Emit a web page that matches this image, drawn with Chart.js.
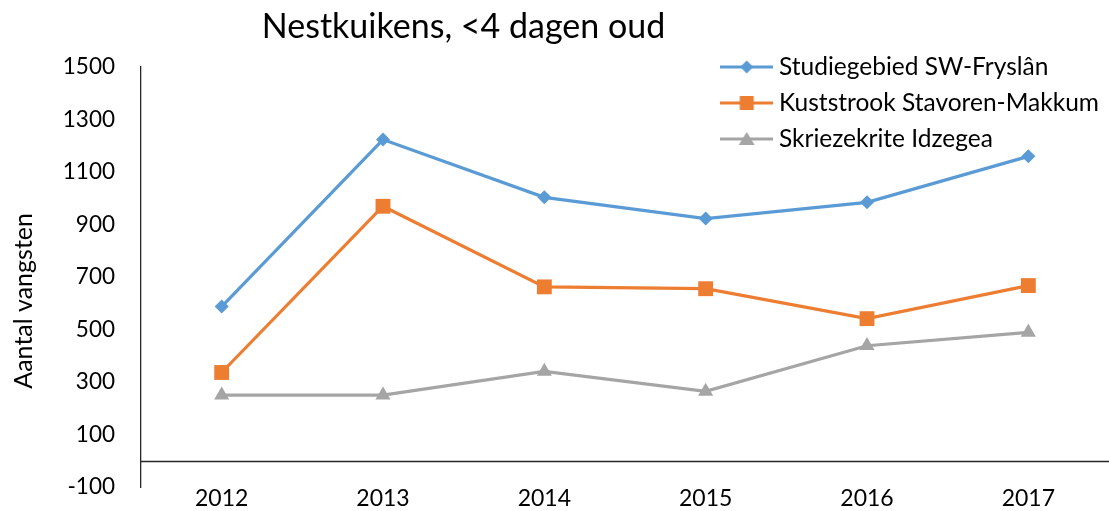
<!DOCTYPE html>
<html><head><meta charset="utf-8">
<script src="https://cdn.jsdelivr.net/npm/chart.js@4.4.1/dist/chart.umd.min.js"></script>
<style>html,body{margin:0;padding:0;background:#fff;} #wrap{width:1109px;height:511px;}</style>
</head><body><div id="wrap"><canvas id="c" width="1109" height="511"></canvas></div>
<script>
const chartTitle = 'Nestkuikens, <4 dagen oud';
const yAxisTitle = 'Aantal vangsten';
const years = ['2012', '2013', '2014', '2015', '2016', '2017'];
const seriesNames = ['Studiegebied SW-Fryslân', 'Kuststrook Stavoren-Makkum', 'Skriezekrite Idzegea'];
const studiegebied = [587, 1223, 1003, 922, 984, 1159];
const kuststrook = [336, 969, 662, 655, 541, 667];
const skriezekrite = [250, 250, 340, 264, 438, 489];
const yMin = -100, yMax = 1500, yStep = 200;

const colors = ['#5B9BD5', '#ED7D31', '#A5A5A5'];
const shapes = ['rectRot', 'rect', 'triangle'];
const FONT = 'Lato, "Open Sans", sans-serif';
const LEGEND_FONT = 24.5;

function legendIcon(color, shape) {
  const c = document.createElement('canvas');
  c.width = 53; c.height = 20;
  const g = c.getContext('2d');
  g.strokeStyle = color; g.lineWidth = 3;
  g.beginPath(); g.moveTo(0, 10); g.lineTo(53, 10); g.stroke();
  g.fillStyle = color; g.beginPath();
  if (shape === 'rectRot') { g.moveTo(26.5, 3.5); g.lineTo(33, 10); g.lineTo(26.5, 16.5); g.lineTo(20, 10); }
  else if (shape === 'rect') { g.rect(19.5, 3, 14, 14); }
  else { g.moveTo(26.5, 3); g.lineTo(34.5, 16); g.lineTo(18.5, 16); }
  g.closePath(); g.fill();
  return c;
}

function build() {
  const icons = colors.map((c, i) => legendIcon(c, shapes[i]));
  const seriesData = [studiegebied, kuststrook, skriezekrite];
  const radii = [7, 10.5, 8.7];
  const datasets = seriesNames.map((name, i) => ({
    label: name,
    data: seriesData[i],
    borderColor: colors[i],
    backgroundColor: colors[i],
    borderWidth: 3.2,
    pointStyle: shapes[i],
    pointRadius: radii[i],
    pointHoverRadius: radii[i],
    pointBorderWidth: 0,
    tension: 0,
    clip: false
  }));

  const placePlugin = {
    id: 'place',
    afterLayout(chart) {
      const lg = chart.legend;
      const pad = lg.options.labels.padding;
      const w = lg.width, h = lg.height;
      lg.left = 726.75 - pad; lg.right = lg.left + w;
      lg.top = 67 - LEGEND_FONT / 2 - pad; lg.bottom = lg.top + h;
      const t = chart.titleBlock;
      t.left = 0; t.right = 927;
    }
  };
  const zeroLine = {
    id: 'zeroLine',
    beforeDatasetsDraw(chart) {
      const {ctx, chartArea, scales} = chart;
      const y = Math.round(scales.y.getPixelForValue(0)) + 0.5;
      ctx.save();
      ctx.strokeStyle = '#262626'; ctx.lineWidth = 1.3;
      ctx.beginPath(); ctx.moveTo(chartArea.left, y); ctx.lineTo(chartArea.right, y); ctx.stroke();
      ctx.restore();
    }
  };
  const yTitle = {
    id: 'yTitle',
    afterDraw(chart) {
      const {ctx, chartArea} = chart;
      ctx.save();
      ctx.translate(24, (chartArea.top + chartArea.bottom) / 2 + 24);
      ctx.rotate(-Math.PI / 2);
      ctx.font = '25px ' + FONT;
      ctx.fillStyle = '#000';
      ctx.textAlign = 'center'; ctx.textBaseline = 'middle';
      ctx.fillText(yAxisTitle, 0, 0);
      ctx.restore();
    }
  };

  new Chart(document.getElementById('c'), {
    type: 'line',
    data: { labels: years, datasets },
    options: {
      responsive: false,
      animation: false,
      devicePixelRatio: 1,
      layout: { autoPadding: false, padding: { top: 0, left: 0, right: 0, bottom: 0 } },
      font: { family: FONT },
      plugins: {
        title: {
          display: true, text: chartTitle, color: '#000',
          font: { size: 34, weight: 'normal', family: FONT, lineHeight: 1.2 },
          padding: { top: 7, bottom: 19 }
        },
        legend: {
          position: 'chartArea', align: 'start',
          labels: {
            usePointStyle: true, pointStyleWidth: 40, padding: 36 - LEGEND_FONT,
            color: '#000', font: { size: LEGEND_FONT, family: FONT },
            generateLabels(chart) {
              const items = Chart.defaults.plugins.legend.labels.generateLabels(chart);
              items.forEach((it, i) => { it.pointStyle = icons[i]; });
              return items;
            }
          }
        },
        tooltip: { enabled: false }
      },
      scales: {
        x: {
          offset: true,
          grid: { display: false, drawTicks: false },
          border: { display: false },
          ticks: { color: '#000', padding: -2, font: { size: 23, family: FONT } },
          afterFit(scale) { scale.height = 24; scale.paddingLeft = 0; scale.paddingRight = 0; }
        },
        y: {
          min: yMin, max: yMax,
          grid: { display: false, drawTicks: true, tickLength: 26 },
          border: { display: true, color: '#262626', width: 1.3 },
          ticks: {
            stepSize: yStep, color: '#000', padding: 0,
            font: { size: 22.5, family: FONT },
            callback: (v) => String(v)
          },
          afterFit(scale) { scale.width = 141; }
        }
      }
    },
    plugins: [placePlugin, zeroLine, yTitle]
  });
}

Promise.all([
  document.fonts.load('22px Lato'),
  document.fonts.load('34px Lato')
]).then(build, build);
</script>
</body></html>
